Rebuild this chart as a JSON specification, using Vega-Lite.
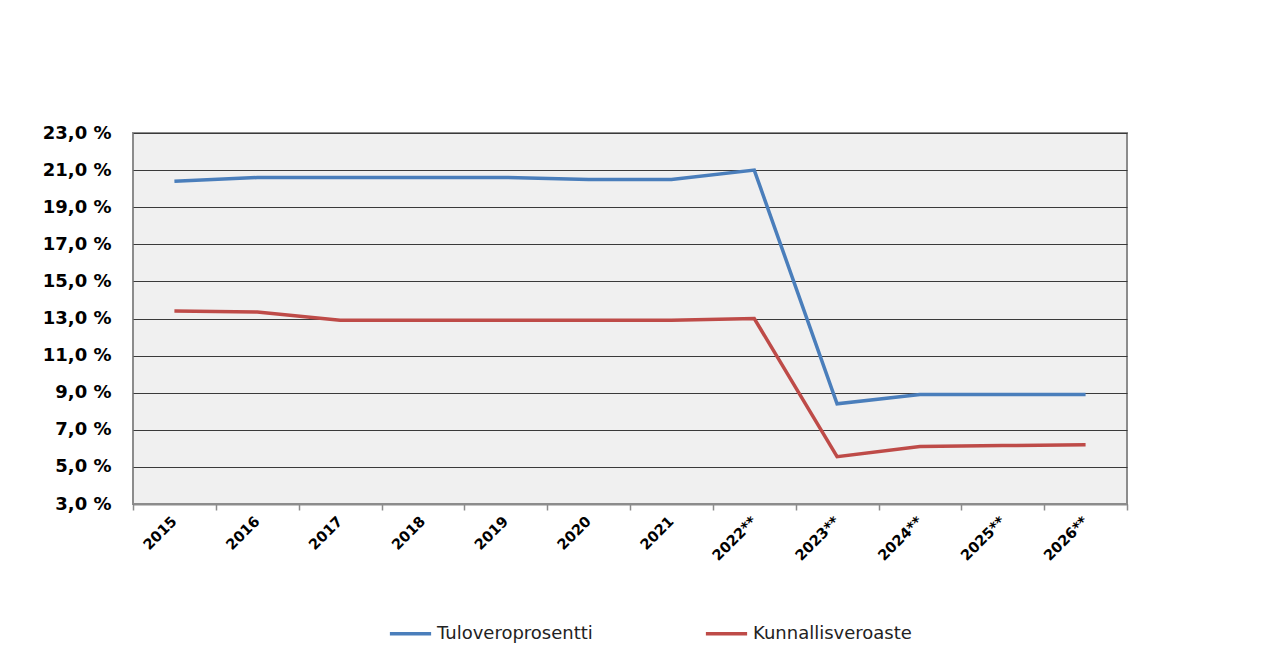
{
  "$schema": "https://vega.github.io/schema/vega-lite/v6.json",
  "autosize": {"type": "none"},
  "width": 994,
  "height": 371,
  "padding": {"left": 133, "top": 133, "right": 154, "bottom": 168},
  "background": "white",
  "config": {
    "view": {"fill": "#f0f0f0", "stroke": "#8c8c8c", "strokeWidth": 2},
    "font": "DejaVu Sans"
  },
  "data": {
    "values": [
      {"year": "2015", "series": "Tuloveroprosentti", "value": 20.4},
      {"year": "2016", "series": "Tuloveroprosentti", "value": 20.6},
      {"year": "2017", "series": "Tuloveroprosentti", "value": 20.6},
      {"year": "2018", "series": "Tuloveroprosentti", "value": 20.6},
      {"year": "2019", "series": "Tuloveroprosentti", "value": 20.6},
      {"year": "2020", "series": "Tuloveroprosentti", "value": 20.5},
      {"year": "2021", "series": "Tuloveroprosentti", "value": 20.5},
      {"year": "2022**", "series": "Tuloveroprosentti", "value": 21.0},
      {"year": "2023**", "series": "Tuloveroprosentti", "value": 8.4},
      {"year": "2024**", "series": "Tuloveroprosentti", "value": 8.9},
      {"year": "2025**", "series": "Tuloveroprosentti", "value": 8.9},
      {"year": "2026**", "series": "Tuloveroprosentti", "value": 8.9},
      {"year": "2015", "series": "Kunnallisveroaste", "value": 13.4},
      {"year": "2016", "series": "Kunnallisveroaste", "value": 13.35},
      {"year": "2017", "series": "Kunnallisveroaste", "value": 12.9},
      {"year": "2018", "series": "Kunnallisveroaste", "value": 12.9},
      {"year": "2019", "series": "Kunnallisveroaste", "value": 12.9},
      {"year": "2020", "series": "Kunnallisveroaste", "value": 12.9},
      {"year": "2021", "series": "Kunnallisveroaste", "value": 12.9},
      {"year": "2022**", "series": "Kunnallisveroaste", "value": 13.0},
      {"year": "2023**", "series": "Kunnallisveroaste", "value": 5.55},
      {"year": "2024**", "series": "Kunnallisveroaste", "value": 6.1},
      {"year": "2025**", "series": "Kunnallisveroaste", "value": 6.15},
      {"year": "2026**", "series": "Kunnallisveroaste", "value": 6.2}
    ]
  },
  "mark": {"type": "line", "strokeWidth": 3.5, "strokeJoin": "miter"},
  "encoding": {
    "x": {
      "field": "year",
      "type": "ordinal",
      "sort": null,
      "bandPosition": 0.5,
      "scale": {"type": "band", "paddingInner": 0, "paddingOuter": 0},
      "title": null,
      "axis": {
        "tickBand": "extent",
        "labelAngle": -45,
        "labelAlign": "right",
        "labelBaseline": "middle",
        "labelFont": "DejaVu Sans",
        "labelFontWeight": "bold",
        "labelFontSize": 14.5,
        "labelColor": "#000000",
        "labelPadding": 9,
        "domainColor": "#8c8c8c",
        "domainWidth": 2,
        "tickColor": "#8c8c8c",
        "tickWidth": 1.5,
        "tickSize": 6,
        "grid": false
      }
    },
    "y": {
      "field": "value",
      "type": "quantitative",
      "scale": {"domain": [3, 23], "nice": false, "zero": false},
      "title": null,
      "axis": {
        "values": [3, 5, 7, 9, 11, 13, 15, 17, 19, 21, 23],
        "labelExpr": "replace(format(datum.value, '.1f'), '.', ',') + ' %'",
        "labelFont": "DejaVu Sans",
        "labelFontWeight": "bold",
        "labelFontSize": 18,
        "labelColor": "#000000",
        "labelPadding": 22,
        "ticks": false,
        "domain": false,
        "grid": true,
        "gridColor": "#3a3a3a",
        "gridWidth": 1,
        "gridOpacity": 1
      }
    },
    "color": {
      "field": "series",
      "type": "nominal",
      "sort": ["Tuloveroprosentti", "Kunnallisveroaste"],
      "scale": {"domain": ["Tuloveroprosentti", "Kunnallisveroaste"], "range": ["#4a7ebb", "#be4b48"]},
      "legend": {
        "title": null,
        "orient": "none",
        "direction": "horizontal",
        "legendX": 255,
        "legendY": 478,
        "symbolType": "stroke",
        "symbolSize": 1700,
        "symbolStrokeWidth": 3.5,
        "labelFont": "DejaVu Sans",
        "labelFontSize": 18,
        "labelColor": "#222222",
        "labelOffset": 4,
        "columnPadding": 105
      }
    }
  }
}
